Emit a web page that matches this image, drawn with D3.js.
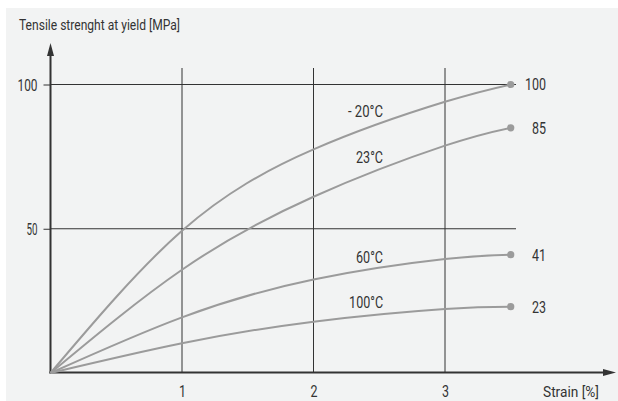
<!DOCTYPE html>
<html>
<head>
<meta charset="utf-8">
<script src="https://cdn.jsdelivr.net/npm/d3@7"></script>
<style>
  html, body { margin: 0; padding: 0; background: #ffffff; }
  svg { display: block; }
  text { font-family: Roboto, "Noto Sans", sans-serif; fill: #333; }
</style>
</head>
<body>
<svg id="chart" width="618" height="401"></svg>
<script>
// Strain values (%) where each curve is sampled
const strain = [0, 1, 2, 3, 3.5];

// Tensile strength at yield (MPa) per test temperature
const seriesNames = ["- 20°C", "23°C", "60°C", "100°C"];
const minus20 = [0, 49.3, 77.5, 94.0, 100];
const t23 = [0, 35.8, 61.1, 78.8, 85];
const t60 = [0, 19.3, 32.4, 39.5, 41];
const t100 = [0, 10.3, 17.8, 22.2, 23];
const seriesValues = [minus20, t23, t60, t100];

// End-point labels (MPa at 3.5 % strain)
const endLabels = ["100", "85", "41", "23"];

// Axis ticks
const xTicks = [1, 2, 3];
const yTicks = [50, 100];

const svg = d3.select("#chart");

// Panel background
svg.append("rect")
  .attr("x", 6).attr("y", 8)
  .attr("width", 612).attr("height", 393)
  .attr("fill", "#f2f3f3");

const x = d3.scaleLinear().domain([0, 1]).range([50.5, 182]);
const y = d3.scaleLinear().domain([0, 100]).range([373, 84.5]);

// Vertical grid lines at each strain tick
svg.append("g").selectAll("line")
  .data(xTicks)
  .join("line")
  .attr("x1", d => x(d)).attr("x2", d => x(d))
  .attr("y1", 68).attr("y2", 372)
  .attr("stroke", "#333").attr("stroke-width", 1);

// Horizontal grid lines at each strength tick
svg.append("g").selectAll("line")
  .data(yTicks)
  .join("line")
  .attr("x1", x(0)).attr("x2", 516)
  .attr("y1", d => y(d)).attr("y2", d => y(d))
  .attr("stroke", "#333").attr("stroke-width", 1);

// Y axis ticks and labels
const yAxis = svg.append("g")
  .attr("transform", `translate(${x(0)},0)`)
  .call(d3.axisLeft(y).tickValues(yTicks).tickSize(7).tickPadding(6).tickFormat(d3.format("d")));
yAxis.select(".domain").remove();
yAxis.selectAll(".tick line").attr("stroke", "#333").attr("stroke-width", 1);
yAxis.selectAll(".tick text")
  .attr("font-size", 16)
  .attr("font-family", null)
  .attr("fill", "#333")
  .attr("dy", "0.36em")
  .attr("textLength", d => d === 100 ? 20 : 11)
  .attr("lengthAdjust", "spacingAndGlyphs");

// X axis labels
const xAxis = svg.append("g")
  .attr("transform", "translate(0,372.5)")
  .call(d3.axisBottom(x).tickValues(xTicks).tickSize(0).tickPadding(0).tickFormat(d3.format("d")));
xAxis.select(".domain").remove();
xAxis.selectAll(".tick text")
  .attr("font-size", 16)
  .attr("font-family", null)
  .attr("fill", "#333")
  .attr("y", 24.5)
  .attr("dy", null)
  .attr("textLength", 7)
  .attr("lengthAdjust", "spacingAndGlyphs");

// Axis lines with arrowheads
svg.append("line")
  .attr("x1", x(0)).attr("x2", x(0))
  .attr("y1", 373.5).attr("y2", 54)
  .attr("stroke", "#333").attr("stroke-width", 2);
svg.append("path")
  .attr("d", `M${x(0)},43 L${x(0) + 3.5},56 L${x(0) - 3.5},56 Z`)
  .attr("fill", "#333");
svg.append("line")
  .attr("x1", x(0) - 1).attr("x2", 605)
  .attr("y1", 372.5).attr("y2", 372.5)
  .attr("stroke", "#333").attr("stroke-width", 2);
svg.append("path")
  .attr("d", "M616,372.5 L603,369 L603,376 Z")
  .attr("fill", "#333");

// Curves
const line = d3.line()
  .x((d, i) => x(strain[i]))
  .y(d => y(d))
  .curve(d3.curveNatural);

svg.append("g").selectAll("path")
  .data(seriesValues)
  .join("path")
  .attr("d", d => line(d))
  .attr("fill", "none")
  .attr("stroke", "#9b9b9b")
  .attr("stroke-width", 2);

// End-point markers
const last = strain.length - 1;
svg.append("g").selectAll("circle")
  .data(seriesValues)
  .join("circle")
  .attr("cx", x(strain[last]))
  .attr("cy", d => y(d[last]))
  .attr("r", 3.6)
  .attr("fill", "#9b9b9b");

// End-point value labels
svg.append("g").selectAll("text")
  .data(seriesValues)
  .join("text")
  .attr("x", 546)
  .attr("y", d => y(d[last]))
  .attr("dy", "0.37em")
  .attr("text-anchor", "end")
  .attr("font-size", 16)
  .attr("textLength", (d, i) => endLabels[i].length === 3 ? 21 : 14)
  .attr("lengthAdjust", "spacingAndGlyphs")
  .text((d, i) => endLabels[i]);

// Temperature labels placed above each curve
const tempLabelPos = [
  { sx: 2.395, v: 88.7, w: 35 },
  { sx: 2.426, v: 72.8, w: 27 },
  { sx: 2.426, v: 38.2, w: 27 },
  { sx: 2.40, v: 22.6, w: 34 }
];
svg.append("g").selectAll("text")
  .data(seriesNames)
  .join("text")
  .attr("x", (d, i) => x(tempLabelPos[i].sx))
  .attr("y", (d, i) => y(tempLabelPos[i].v))
  .attr("text-anchor", "middle")
  .attr("font-size", 16)
  .attr("textLength", (d, i) => tempLabelPos[i].w)
  .attr("lengthAdjust", "spacingAndGlyphs")
  .text(d => d);

// Axis titles
svg.append("text")
  .attr("x", 19).attr("y", 30)
  .attr("font-size", 14.5)
  .attr("textLength", 161)
  .attr("lengthAdjust", "spacingAndGlyphs")
  .text("Tensile strenght at yield [MPa]");

svg.append("text")
  .attr("x", 543).attr("y", 397)
  .attr("font-size", 14.5)
  .attr("textLength", 56)
  .attr("lengthAdjust", "spacingAndGlyphs")
  .text("Strain [%]");
</script>
</body>
</html>
